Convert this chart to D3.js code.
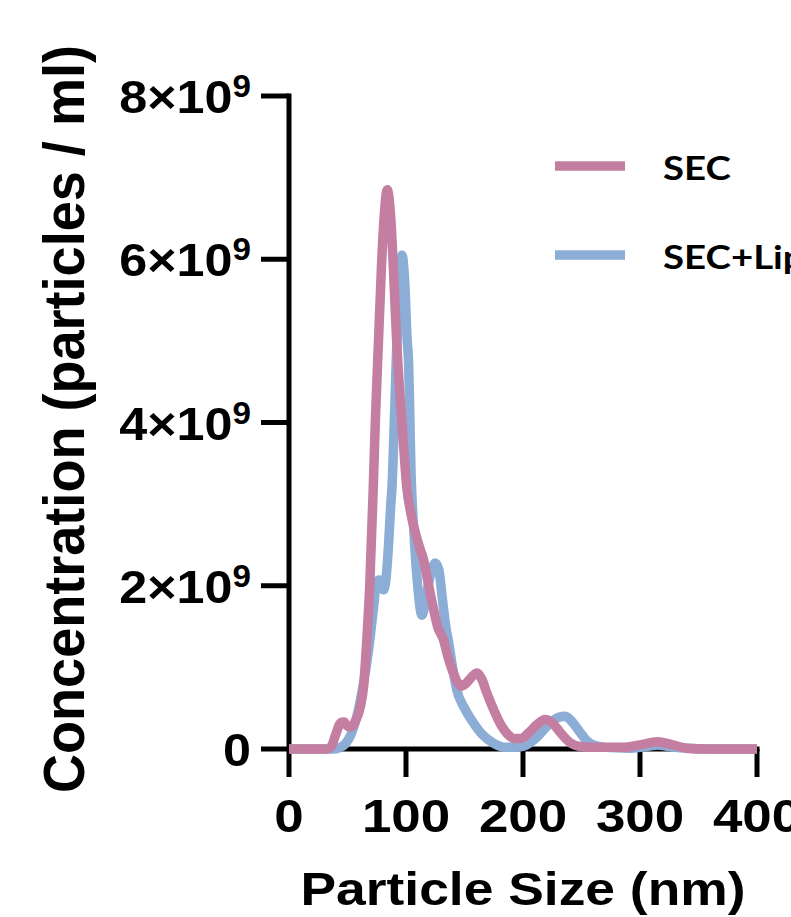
<!DOCTYPE html>
<html>
<head>
<meta charset="utf-8">
<script src="https://cdn.jsdelivr.net/npm/d3@7"></script>
<style>
  html, body { margin: 0; padding: 0; background: #fff; }
  svg { display: block; }
  text { font-family: "Liberation Sans", Arial, sans-serif; font-weight: bold; fill: #000; }
  .leg { font-family: Lato, "Open Sans", sans-serif; font-weight: bold; }
</style>
</head>
<body>
<svg id="chart" width="791" height="917"></svg>
<script>
// ---- data (concentration in units of 1e9 particles/ml) ----
const secSize = [0, 32, 36, 40, 44, 47, 50, 53, 57, 61, 64, 66.5, 69, 72, 74, 76.5, 79, 81, 84, 87, 89.5, 92, 95, 98, 100.7, 104, 108, 112, 115, 118, 123, 127, 132, 136, 140, 143.5, 147, 151, 156, 160.7, 165, 169, 175, 181, 187, 192, 198, 205, 212, 219, 225, 232, 240, 249, 260, 285, 300, 315, 328, 340, 355, 400];
const secConc = [0, 0, 0.03, 0.18, 0.32, 0.33, 0.28, 0.27, 0.35, 0.52, 0.8, 1.34, 2.0, 3.2, 4.1, 5.0, 5.9, 6.45, 6.85, 6.5, 5.8, 5.0, 4.3, 3.7, 3.2, 2.9, 2.65, 2.45, 2.32, 2.1, 1.75, 1.5, 1.34, 1.12, 0.95, 0.83, 0.77, 0.8, 0.88, 0.93, 0.85, 0.69, 0.48, 0.3, 0.18, 0.13, 0.13, 0.2, 0.3, 0.36, 0.32, 0.2, 0.08, 0.03, 0.02, 0.02, 0.05, 0.09, 0.05, 0.01, 0, 0];

const lipSize = [0, 38, 42, 48, 53, 58, 63, 68, 72, 75, 77, 79, 81, 83, 85, 87, 88, 90, 92, 94, 96.5, 99, 101, 102, 104.5, 107, 110, 113.6, 116, 119, 122, 125, 128, 131, 134, 136.5, 140, 143.5, 150, 157.6, 165, 175, 185, 195, 203, 210, 218, 225, 231, 236, 241, 248, 254, 260, 270, 290, 305, 315, 325, 340, 360, 400];
const lipConc = [0, 0, 0.01, 0.06, 0.18, 0.4, 0.75, 1.21, 1.7, 2.05, 2.07, 1.98, 1.95, 2.1, 2.48, 3.0, 3.2, 4.0, 4.9, 5.6, 6.05, 5.7, 5.0, 4.8, 3.3, 2.6, 2.0, 1.64, 1.75, 2.0, 2.2, 2.28, 2.2, 1.85, 1.5, 1.3, 0.98, 0.72, 0.5, 0.32, 0.18, 0.07, 0.02, 0.02, 0.05, 0.12, 0.24, 0.34, 0.39, 0.4, 0.35, 0.22, 0.11, 0.05, 0.02, 0.01, 0.03, 0.05, 0.03, 0.01, 0, 0];

const xTicks = [0, 100, 200, 300, 400];
const yTickMantissa = [0, 2, 4, 6, 8];
const seriesNames = ["SEC", "SEC+Lip"];
const seriesColors = ["#c47ea2", "#8cadd6"];

// ---- layout ----
const svg = d3.select("#chart");
const x = d3.scaleLinear().domain([0, 400]).range([289, 757]);
const y = d3.scaleLinear().domain([0, 8e9]).range([749, 96]);

const line = d3.line()
  .x(d => x(d[0]))
  .y(d => y(d[1] * 1e9))
  .curve(d3.curveMonotoneX);

const series = [
  secSize.map((s, i) => [s, secConc[i]]),
  lipSize.map((s, i) => [s, lipConc[i]])
];

// axes
const axisW = 5;
const yAxis = svg.append("g");
yAxis.append("line").attr("x1", x(0)).attr("x2", x(0)).attr("y1", y(8e9) - axisW/2).attr("y2", y(0) + axisW/2)
  .attr("stroke", "#000").attr("stroke-width", axisW);
yTickMantissa.forEach(m => {
  const yy = y(m * 1e9);
  yAxis.append("line").attr("x1", 261).attr("x2", x(0)).attr("y1", yy).attr("y2", yy)
    .attr("stroke", "#000").attr("stroke-width", axisW);
  const t = yAxis.append("text")
    .attr("transform", `translate(251,${yy + 17}) scale(1.07,1)`)
    .attr("text-anchor", "end").style("font-size", "47px");
  if (m === 0) {
    t.text("0");
  } else {
    t.append("tspan").text(m + "×10");
    t.append("tspan").attr("dy", -16).style("font-size", "31px").text("9");
  }
});

const xAxis = svg.append("g");
xAxis.append("line").attr("x1", x(0)).attr("x2", x(400) + axisW/2).attr("y1", y(0)).attr("y2", y(0))
  .attr("stroke", "#000").attr("stroke-width", axisW);
xTicks.forEach(v => {
  xAxis.append("line").attr("x1", x(v)).attr("x2", x(v)).attr("y1", y(0)).attr("y2", 777)
    .attr("stroke", "#000").attr("stroke-width", axisW);
  xAxis.append("text")
    .attr("transform", `translate(${x(v)},832) scale(1.15,1)`)
    .attr("text-anchor", "middle")
    .style("font-size", "46px").text(v);
});

// axis titles
svg.append("text").attr("x", 523).attr("y", 905).attr("text-anchor", "middle")
  .style("font-size", "46px").attr("textLength", 445).attr("lengthAdjust", "spacingAndGlyphs")
  .text("Particle Size (nm)");
svg.append("text").attr("transform", "translate(84,419) rotate(-90)").attr("text-anchor", "middle")
  .style("font-size", "58px").attr("textLength", 748).attr("lengthAdjust", "spacingAndGlyphs")
  .text("Concentration (particles / ml)");

// data lines (SEC drawn last, on top)
[1, 0].forEach(i => {
  svg.append("path").datum(series[i]).attr("d", line)
    .attr("fill", "none").attr("stroke", seriesColors[i]).attr("stroke-width", 9.5)
    .attr("stroke-linejoin", "round").attr("stroke-linecap", "butt");
});

// legend
const legY = [166, 255];
seriesNames.forEach((name, i) => {
  svg.append("line").attr("x1", 555).attr("x2", 625).attr("y1", legY[i]).attr("y2", legY[i])
    .attr("stroke", seriesColors[i]).attr("stroke-width", 9.5);
  svg.append("text").attr("class", "leg")
    .attr("transform", `translate(663,${legY[i] + 14}) scale(1.2,1)`)
    .style("font-size", "32px").text(name);
});
</script>
</body>
</html>
